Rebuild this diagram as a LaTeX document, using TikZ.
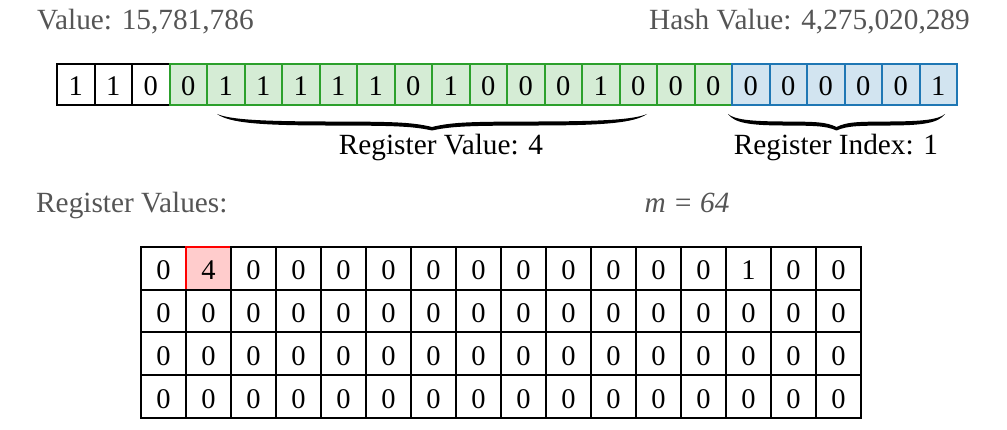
\documentclass[tikz,border=0pt]{standalone}
\usepackage{fontspec}
\setmainfont{Liberation Serif}
\definecolor{lbl}{HTML}{555555}
\definecolor{gstroke}{HTML}{2CA02C}
\definecolor{gfill}{HTML}{D5ECD5}
\definecolor{bstroke}{HTML}{1F77B4}
\definecolor{bfill}{HTML}{D2E4F0}
\definecolor{rfill}{HTML}{FFCCCC}
\newcommand{\hbrace}[3]{%
 \pgfmathsetmacro\bA{#1}\pgfmathsetmacro\bB{#2}\pgfmathsetmacro\bY{#3}%
 \pgfmathsetmacro\bL{\bB-\bA}\pgfmathsetmacro\bM{(\bA+\bB)/2}%
 \fill[black] (\bA,\bY)
 .. controls ({\bA+0.03*\bL},{\bY+5.5}) and ({\bA+0.1*\bL},{\bY+7.3}) .. ({\bA+0.25*\bL},{\bY+7.5})
 .. controls ({\bA+0.4*\bL},{\bY+7.7}) and ({\bM-0.05*\bL},{\bY+7.7}) .. (\bM,{\bY+13})
 .. controls ({\bM+0.05*\bL},{\bY+7.7}) and ({\bB-0.4*\bL},{\bY+7.7}) .. ({\bB-0.25*\bL},{\bY+7.5})
 .. controls ({\bB-0.1*\bL},{\bY+7.3}) and ({\bB-0.03*\bL},{\bY+5.5}) .. (\bB,\bY)
 .. controls ({\bB-0.03*\bL},{\bY+9}) and ({\bB-0.1*\bL},{\bY+11.3}) .. ({\bB-0.25*\bL},{\bY+11.5})
 .. controls ({\bB-0.4*\bL},{\bY+11.7}) and ({\bM+0.05*\bL},{\bY+11.7}) .. (\bM,{\bY+16.5})
 .. controls ({\bM-0.05*\bL},{\bY+11.7}) and ({\bA+0.4*\bL},{\bY+11.7}) .. ({\bA+0.25*\bL},{\bY+11.5})
 .. controls ({\bA+0.1*\bL},{\bY+11.3}) and ({\bA+0.03*\bL},{\bY+9}) .. (\bA,\bY) -- cycle;
}
\tikzset{
 txt/.style={inner sep=0pt, font=\fontsize{29.3}{34}\selectfont},
 graytxt/.style={txt, text=lbl},
 cellbase/.style={rectangle, inner sep=0pt, line width=2pt, text height=22pt, text depth=0pt,
   font=\fontsize{28.5}{30}\selectfont},
 bitcell/.style={cellbase, minimum width=37.5pt, minimum height=41pt},
 bitk/.style={bitcell, draw=black, fill=white},
 bitg/.style={bitcell, draw=gstroke, fill=gfill},
 bitb/.style={bitcell, draw=bstroke, fill=bfill},
 regcell/.style={cellbase, minimum width=45pt, minimum height=42.75pt, text height=23.2pt, draw=black, fill=white},
 regsel/.style={regcell, draw=red, fill=rfill},
}
\begin{document}
\begin{tikzpicture}[x=1pt, y=-1pt]
\useasboundingbox[fill=white] (0,0) rectangle (1007,430);
% header labels
\node[graytxt, anchor=base west] (val) at (37,30) {Value: 15,781,786};
\node[graytxt, anchor=base east] (hash) at (970,30) {Hash Value: 4,275,020,289};
% bit row
\foreach \v [count=\i from 0] in {1,1,0,0,1,1,1,1,1,0,1,0,0,0,1,0,0,0,0,0,0,0,0,1} {
  \ifnum\i<3 \def\st{bitk}\else\ifnum\i<18 \def\st{bitg}\else\def\st{bitb}\fi\fi
  \node[\st] (b\i) at ({57+37.5*\i+18.75},84.5) {\v};
}
% braces
\hbrace{217}{647}{114}
\hbrace{728}{945}{114}
\node[txt, anchor=base] (rv) at (441,155) {Register Value: 4};
\node[txt, anchor=base] (ri) at (836,155) {Register Index: 1};
% register values
\node[graytxt, anchor=base west] (regs) at (36,213) {Register Values:};
\node[graytxt, anchor=base] (mm) at (687,213) {\itshape m = 64};
\foreach \v [count=\c from 0] in {0,4,0,0,0,0,0,0,0,0,0,0,0,1,0,0} {
  \ifnum\c=1 \def\st{regsel}\else\def\st{regcell}\fi
  \node[\st] (r0c\c) at ({141+45*\c+22.5},{247+21.375}) {\v};
}
\foreach \r in {1,2,3} {
  \foreach \c in {0,...,15} {
    \node[regcell] (r\r c\c) at ({141+45*\c+22.5},{247+42.75*\r+21.375}) {0};
  }
}
\end{tikzpicture}
\end{document}
